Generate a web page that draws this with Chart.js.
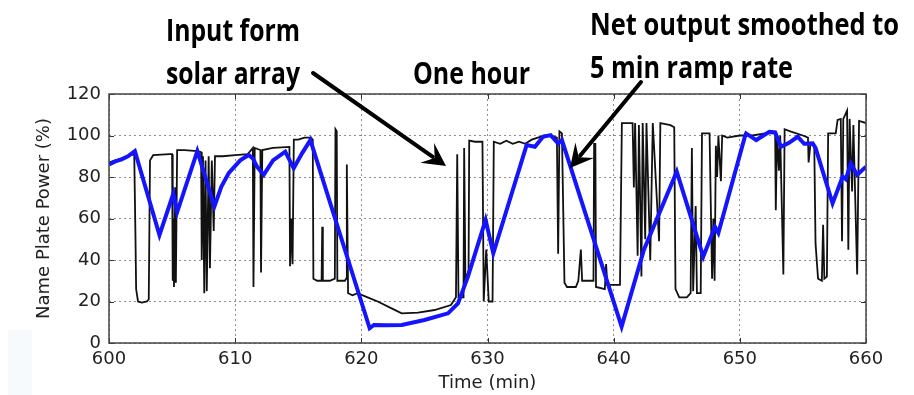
<!DOCTYPE html>
<html>
<head>
<meta charset="utf-8">
<script src="https://cdn.jsdelivr.net/npm/chart.js@4.4.1/dist/chart.umd.min.js"></script>
<style>
html,body{margin:0;padding:0;background:#fff;}
#wrap{position:relative;width:914px;height:395px;}
</style>
</head>
<body>
<div id="wrap"><canvas id="c" width="914" height="395"></canvas></div>
<script>
// ---- data ----
const solarTime = [600.0,600.5,601.0,601.5,602.0,602.1,602.15,602.3,602.6,603.0,603.15,603.25,603.5,604.8,605.0,605.05,605.1,605.15,605.25,605.3,605.4,606.0,607.0,607.3,607.35,607.45,607.55,607.65,607.75,607.9,608.0,608.15,608.3,608.4,609.0,610.0,611.0,611.4,611.45,611.55,612.0,612.05,612.15,613.0,614.3,614.35,614.45,614.55,614.65,615.0,615.5,616.0,616.15,616.2,616.5,616.85,616.9,616.95,617.5,617.9,617.95,618.05,618.1,618.7,618.8,618.85,618.95,619.3,619.7,620.5,621.3,622.4,623.2,624.5,625.8,627.1,627.5,627.6,627.7,628.1,628.15,628.25,628.5,628.55,629.0,629.6,629.7,629.9,630.1,630.4,630.5,631.0,631.5,632.0,632.5,633.0,633.5,634.0,634.5,635.0,635.5,635.6,635.7,635.9,636.1,636.3,637.0,637.2,637.4,637.5,638.4,638.45,638.55,638.6,639.3,639.4,639.5,640.5,640.65,641.5,641.6,641.7,641.9,642.0,642.2,642.3,642.5,642.6,642.9,643.1,643.6,643.7,644.5,644.8,644.9,645.2,645.8,646.1,646.2,646.3,646.5,646.6,646.9,647.0,647.6,647.8,647.9,648.0,648.1,648.2,648.3,648.5,648.6,649.0,650.0,651.0,652.0,652.8,652.85,652.95,653.1,653.2,653.45,653.55,654.0,655.0,655.4,655.45,655.6,655.9,656.0,656.2,656.5,656.6,656.7,656.9,657.0,657.6,657.75,658.0,658.1,658.2,658.5,658.6,658.7,658.9,659.0,659.3,659.45,660.0];
const solarPower = [87,88,89,90,91,50,26,20,19.5,20,21,88,90.5,91,91,30,60,27,75,29,93,93,92.5,92,40,90,24,88,25,90,36,88,54,90,90,90.5,91,94,27,94,93,34,93,94,94.5,37,60,38,98,98,99,99,98,31,30,30,56,30,30,31,103,102,30,30,31,86,24,23,24,22,20,16.7,14.3,14.6,15.9,18.3,22,91,22,22,94,30,35,97.5,97,97,20,45,20,20,97,96,97.5,96,97,96,98,99,100,100,99,43,102,101,29,27,27,30,45,30,30,96,96,27,26,38,28,28,106,106,75,106,42,105,32,106,50,106,40,106,49,106,105,104,26,22,22,24,94,25,66,24,24,101,101,31,60,30,95,80,100,78,100,99,100,100,101,101,64,100,83,100,33,103,102,100,99,87,96,95,48,31,30,57,31,32,101,101,107.5,108,49,108,112,45,108,73,105,33,107,106];

const netTime = [600.0,600.5,601.0,601.5,602.05,604.0,605.1,605.4,607.0,608.35,608.9,609.5,610.4,611.07,611.4,611.73,612.26,613.0,613.97,614.64,615.3,615.96,620.66,621.0,622.0,623.2,625.0,626.87,627.66,628.45,629.85,630.46,633.1,633.76,634.4,635.0,635.6,635.9,640.63,642.4,645.0,647.1,648.03,648.3,650.4,650.5,651.3,652.34,652.8,653.26,653.9,654.58,655.1,655.77,656.0,657.35,658.15,658.4,658.8,659.3,660.0];
const netPower = [86,87.5,88.5,90,92.5,52,72,63,92.5,65.7,75.3,82,88,90.6,89,85,81,88,92.2,84.2,91.4,97.8,7.1,8.7,8.5,8.7,11.1,14.3,19.1,32,59.3,43.2,95.4,94.6,99.4,100.2,96.2,97.8,7.9,45,82.6,41.6,56,53,99.4,101,97.8,101.8,101.5,94.6,96.5,99.4,96,96.2,94,67.3,80.2,79,86.6,81,85];

const xTicks = [600,610,620,630,640,650,660];
const yTicks = [0,20,40,60,80,100,120];
const xTitle = 'Time (min)';
const yTitle = 'Name Plate Power (%)';
const notes = [
  {text:'Input form', x1:166, x2:300, y:41},
  {text:'solar array', x1:166, x2:300, y:84},
  {text:'One hour', x1:413, x2:530, y:84},
  {text:'Net output smoothed to', x1:590, x2:899, y:35},
  {text:'5 min ramp rate', x1:590, x2:793, y:78}
];
const arrows = [
  {from:[313,73], to:[446,166]},
  {from:[641,82], to:[570,168]}
];

const solarPts = solarTime.map((t,i)=>({x:t,y:solarPower[i]}));
const netPts = netTime.map((t,i)=>({x:t,y:netPower[i]}));

const tickFont = {family:'"DejaVu Sans", sans-serif', size:18};

const decor = {
  id:'decor',
  beforeDraw(chart){
    const ctx = chart.ctx;
    ctx.save();
    ctx.fillStyle = '#fff';
    ctx.fillRect(0,0,chart.width,chart.height);
    ctx.fillStyle = 'rgba(230,237,250,0.3)';
    ctx.fillRect(8,330,24,65);
    ctx.restore();
  },
  afterDatasetsDraw(chart){
    const ctx = chart.ctx;
    const a = chart.chartArea;
    const xs = chart.scales.x, ys = chart.scales.y;
    ctx.save();
    // inward tick marks on all four sides
    ctx.strokeStyle = '#333';
    ctx.lineWidth = 1;
    xTicks.forEach(v=>{
      const px = Math.round(xs.getPixelForValue(v))+0.5;
      ctx.beginPath();
      ctx.moveTo(px,a.bottom); ctx.lineTo(px,a.bottom-5);
      ctx.moveTo(px,a.top); ctx.lineTo(px,a.top+5);
      ctx.stroke();
    });
    yTicks.forEach(v=>{
      const py = Math.round(ys.getPixelForValue(v))+0.5;
      ctx.beginPath();
      ctx.moveTo(a.left,py); ctx.lineTo(a.left+5,py);
      ctx.moveTo(a.right,py); ctx.lineTo(a.right-5,py);
      ctx.stroke();
    });
    // frame
    ctx.strokeStyle = '#444';
    ctx.lineWidth = 1.5;
    ctx.strokeRect(a.left, a.top, a.right-a.left, a.bottom-a.top);
    ctx.restore();
  },
  afterDraw(chart){
    const ctx = chart.ctx;
    ctx.save();
    // annotation texts
    ctx.fillStyle = '#000';
    ctx.font = 'bold 31px "Open Sans", Lato, sans-serif';
    ctx.textBaseline = 'alphabetic';
    notes.forEach(n=>{
      const w = ctx.measureText(n.text).width;
      const sx = (n.x2-n.x1)/w;
      ctx.save();
      ctx.translate(n.x1, n.y);
      ctx.scale(sx,1);
      ctx.fillText(n.text,0,0);
      ctx.restore();
    });
    // arrows
    arrows.forEach(ar=>{
      const [x0,y0] = ar.from, [x1,y1] = ar.to;
      const dx = x1-x0, dy = y1-y0, L = Math.hypot(dx,dy);
      const ux = dx/L, uy = dy/L, nx = -uy, ny = ux;
      const hl = 23, hw = 12;
      ctx.strokeStyle = '#000';
      ctx.lineWidth = 4;
      ctx.lineCap = 'round';
      ctx.beginPath();
      ctx.moveTo(x0,y0);
      ctx.lineTo(x1-ux*hl*0.7, y1-uy*hl*0.7);
      ctx.stroke();
      ctx.fillStyle = '#000';
      ctx.beginPath();
      ctx.moveTo(x1,y1);
      ctx.lineTo(x1-ux*hl+nx*hw, y1-uy*hl+ny*hw);
      ctx.lineTo(x1-ux*hl*0.6, y1-uy*hl*0.6);
      ctx.lineTo(x1-ux*hl-nx*hw, y1-uy*hl-ny*hw);
      ctx.closePath();
      ctx.fill();
    });
    ctx.restore();
  }
};

new Chart(document.getElementById('c'), {
  type:'line',
  data:{
    datasets:[
      {label:'Net output', data:netPts, borderColor:'#1414ff', borderWidth:4, pointRadius:0, tension:0, fill:false},
      {label:'Solar array', data:solarPts, borderColor:'#111', borderWidth:1.8, pointRadius:0, tension:0, fill:false}
    ]
  },
  options:{
    responsive:false,
    animation:false,
    devicePixelRatio:1,
    layout:{padding:{left:0,right:48,top:94,bottom:0}},
    plugins:{legend:{display:false}, tooltip:{enabled:false}},
    scales:{
      x:{
        type:'linear', min:600, max:660,
        afterFit(s){ s.height = 52; },
        afterBuildTicks(s){ s.ticks = xTicks.map(v=>({value:v})); },
        ticks:{font:tickFont, color:'#222', padding:6, maxRotation:0, autoSkip:false},
        grid:{color:'rgba(0,0,0,0.45)', lineWidth:1, drawTicks:false},
        border:{display:false, dash:[2,3]},
        title:{display:true, text:xTitle, font:tickFont, color:'#222', padding:{top:0,bottom:1}}
      },
      y:{
        type:'linear', min:0, max:120,
        afterFit(s){ s.width = 109; },
        afterBuildTicks(s){ s.ticks = yTicks.map(v=>({value:v})); },
        ticks:{font:tickFont, color:'#222', padding:8},
        grid:{color:'rgba(0,0,0,0.45)', lineWidth:1, drawTicks:false},
        border:{display:false, dash:[2,3]},
        title:{display:true, text:yTitle, font:tickFont, color:'#222', padding:{top:34,bottom:0}}
      }
    }
  },
  plugins:[decor]
});
</script>
</body>
</html>
